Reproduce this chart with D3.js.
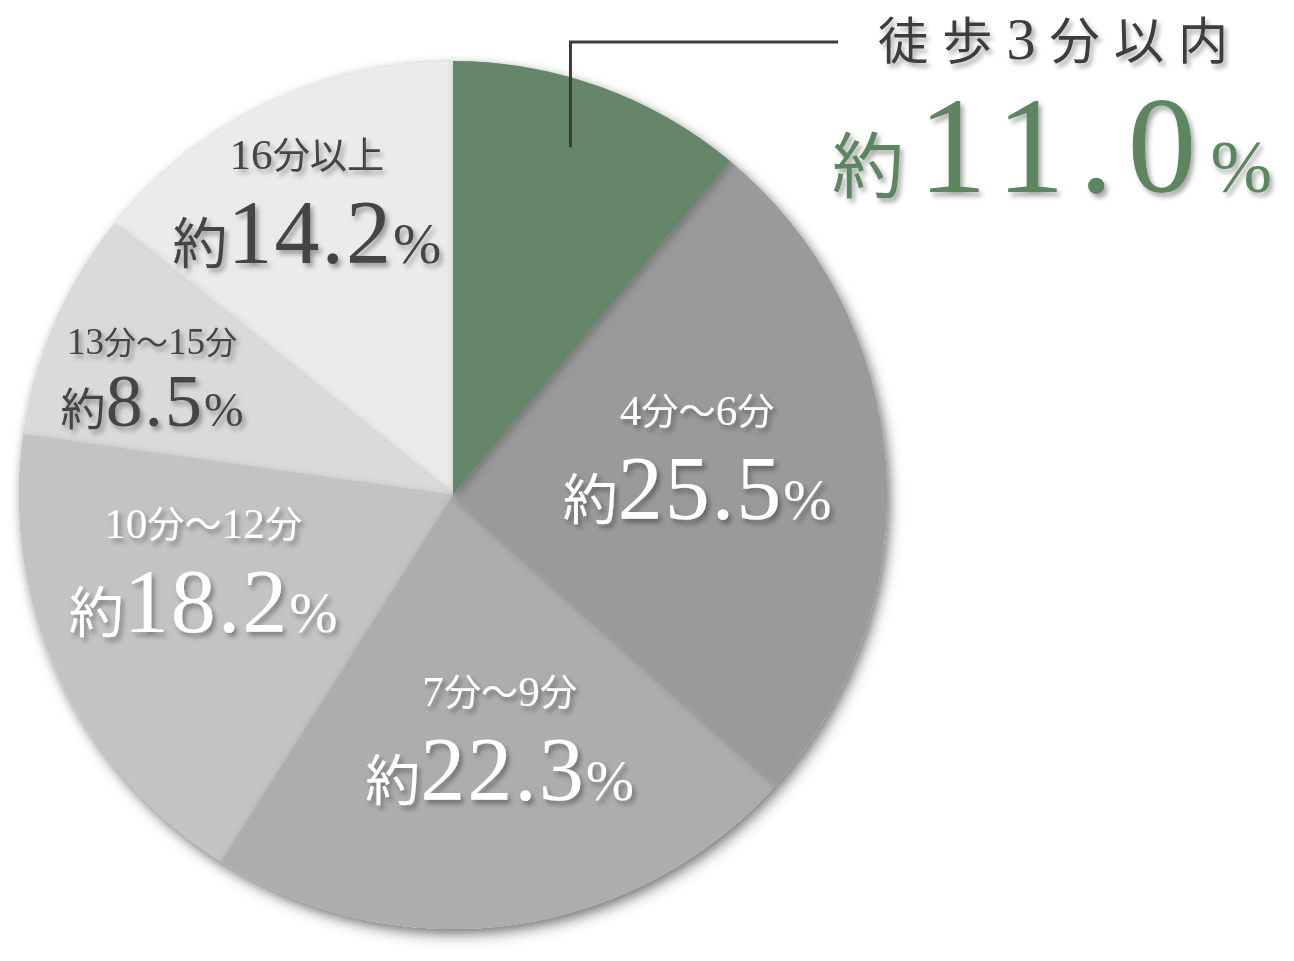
<!DOCTYPE html>
<html>
<head>
<meta charset="utf-8">
<script src="https://cdn.jsdelivr.net/npm/d3@7"></script>
<style>
  html, body { margin: 0; padding: 0; background: #ffffff; }
  svg { display: block; }
  text { font-family: "Liberation Serif", "DejaVu Serif", serif; }
  .jp { font-family: "Noto Sans CJK JP", sans-serif; }
  .num { font-family: "Liberation Serif", "DejaVu Serif", serif; }
</style>
</head>
<body>
<svg id="chart" width="1294" height="961"></svg>
<script>
// ---- data ----
const categories = ["徒歩3分以内", "4分〜6分", "7分〜9分", "10分〜12分", "13分〜15分", "16分以上"];
const values = [11.0, 25.5, 22.3, 18.2, 8.5, 14.2];
const valueLabels = ["11.0", "25.5", "22.3", "18.2", "8.5", "14.2"];
const prefix = "約";
const suffix = "%";

// ---- styles / layout ----
const colors = ["#66866a", "#9a9a9a", "#adadad", "#c3c3c3", "#dadada", "#ebebeb"];
const textColors = ["#5b8560", "#ffffff", "#ffffff", "#ffffff", "#444444", "#444444"];
const labelRadius = [0.846, 0.565, 0.605, 0.612, 0.733, 0.726];   // fraction of R
const labelAngleShift = [-1.2, -1.1, -2.3, 5, -4.5, -2];           // degrees
const labelScale = [1, 1, 1, 1, 0.82, 1];

const cx = 453, cy = 495, R = 434;

const svg = d3.select("#chart");
const defs = svg.append("defs");

const fPie = defs.append("filter").attr("id", "pieShadow")
  .attr("x", "-20%").attr("y", "-20%").attr("width", "140%").attr("height", "140%");
fPie.append("feDropShadow").attr("dx", 4).attr("dy", 7).attr("stdDeviation", 7)
  .attr("flood-color", "#000").attr("flood-opacity", 0.35);

const fSlice = defs.append("filter").attr("id", "sliceShadow")
  .attr("x", "-20%").attr("y", "-20%").attr("width", "140%").attr("height", "140%");
fSlice.append("feDropShadow").attr("dx", 2).attr("dy", 3).attr("stdDeviation", 4)
  .attr("flood-color", "#000").attr("flood-opacity", 0.25);

const fText = defs.append("filter").attr("id", "textShadow")
  .attr("x", "-20%").attr("y", "-30%").attr("width", "140%").attr("height", "160%");
fText.append("feDropShadow").attr("dx", 3).attr("dy", 4).attr("stdDeviation", 2.5)
  .attr("flood-color", "#000").attr("flood-opacity", 0.35);

const pie = d3.pie().sort(null).value(d => d.value);
const data = categories.map((c, i) => ({ cat: c, value: values[i], label: valueLabels[i], i }));
const arcs = pie(data);

const arc = d3.arc().innerRadius(0).outerRadius(R);

const g = svg.append("g").attr("transform", `translate(${cx},${cy})`);

g.append("circle").attr("r", R).attr("fill", "#cccccc").attr("filter", "url(#pieShadow)");

g.selectAll("path.slice")
  .data(arcs.slice().reverse())
  .join("path")
  .attr("class", "slice")
  .attr("d", arc)
  .attr("fill", d => colors[d.data.i])
  .attr("filter", "url(#sliceShadow)");

function addRuns(textSel, str, size) {
  const parts = str.match(/[0-9]+|[^0-9]+/g);
  parts.forEach(p => {
    const isNum = /^[0-9]+$/.test(p);
    textSel.append("tspan")
      .attr("class", isNum ? "num" : "jp")
      .attr("font-size", isNum ? size * 1.08 : size * 0.93)
      .text(p);
  });
}

function labelPoint(d) {
  const i = d.data.i;
  const a = (d.startAngle + d.endAngle) / 2 + labelAngleShift[i] * Math.PI / 180;
  return d3.pointRadial(a, R * labelRadius[i]);
}

// ---- in-slice labels ----
arcs.slice(1).forEach(d => {
  const i = d.data.i;
  const [lx, ly] = labelPoint(d);
  const f = labelScale[i];
  const gapUp = f < 1 ? 0.8 : 1;
  const gapDown = f < 1 ? 0.72 : 1;
  const lg = g.append("g").attr("filter", "url(#textShadow)").attr("fill", textColors[i]);
  const t1 = lg.append("text")
    .attr("x", lx).attr("y", ly - 47 * gapUp)
    .attr("text-anchor", "middle");
  addRuns(t1, d.data.cat, 40 * (f < 1 ? 0.86 : 1));
  const t = lg.append("text")
    .attr("x", lx).attr("y", ly + 47 * gapDown)
    .attr("text-anchor", "middle");
  t.append("tspan").attr("class", "jp").attr("font-size", 55 * f).text(prefix);
  t.append("tspan").attr("class", "num").attr("font-size", 90 * f).attr("letter-spacing", 2).text(d.data.label);
  t.append("tspan").attr("class", "num").attr("font-size", 58 * f).text(suffix);
});

// ---- callout for first slice ----
const first = arcs[0];
const [px, py] = labelPoint(first);
const lineTop = -cy + 42;
const lineEnd = 838 - cx;
g.append("path")
  .attr("d", `M${px},${py}V${lineTop}H${lineEnd}`)
  .attr("fill", "none").attr("stroke", "#3c3c3c").attr("stroke-width", 3);

const cg = g.append("g").attr("filter", "url(#textShadow)");
const ct = cg.append("text")
  .attr("x", lineEnd + 40).attr("y", lineTop + 17)
  .attr("fill", "#3c3c3c")
  .attr("letter-spacing", 14);
addRuns(ct, categories[0], 54);

const bt = cg.append("text")
  .attr("x", lineEnd - 6).attr("y", lineTop + 150)
  .attr("fill", textColors[0]);
bt.append("tspan").attr("class", "jp").attr("font-size", 72).text(prefix);
bt.append("tspan").attr("class", "num").attr("font-size", 138).attr("letter-spacing", 14).attr("dx", 14).text(first.data.label);
bt.append("tspan").attr("class", "num").attr("font-size", 74).text(suffix);
</script>
</body>
</html>
